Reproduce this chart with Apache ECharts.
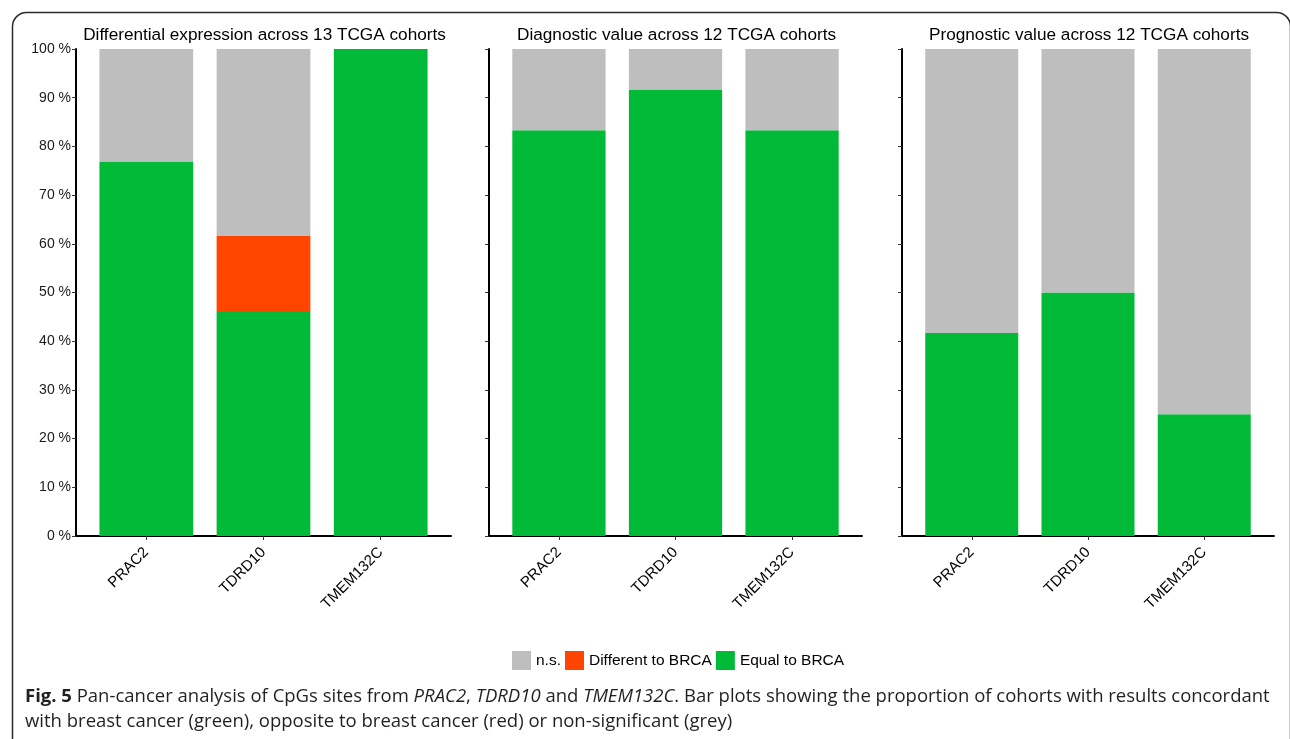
<!DOCTYPE html>
<html>
<head>
<meta charset="utf-8">
<script src="https://cdn.jsdelivr.net/npm/echarts@6/dist/echarts.min.js"></script>
<style>
  html, body { margin: 0; padding: 0; background: #fff; }
  #chart { width: 1290px; height: 739px; }
</style>
</head>
<body>
<div id="chart"></div>
<script>
// Gene categories shared by all three panels
const genes = ['PRAC2', 'TDRD10', 'TMEM132C'];

// Panel headings
const panelTitles = [
  'Differential expression across 13 TCGA cohorts',
  'Diagnostic value across 12 TCGA cohorts',
  'Prognostic value across 12 TCGA cohorts'
];

// Legend / series names
const seriesNames = ['n.s.', 'Different to BRCA', 'Equal to BRCA'];

// Proportion of cohorts (%) — differential expression
const diffEqual = [76.9, 46.2, 100.0];
const diffDifferent = [0, 15.4, 0];
const diffNs = [23.1, 38.4, 0];

// Proportion of cohorts (%) — diagnostic value
const diagEqual = [83.3, 91.7, 83.3];
const diagDifferent = [0, 0, 0];
const diagNs = [16.7, 8.3, 16.7];

// Proportion of cohorts (%) — prognostic value
const progEqual = [41.7, 50.0, 25.0];
const progDifferent = [0, 0, 0];
const progNs = [58.3, 50.0, 75.0];

// Y axis scale
const yMin = 0, yMax = 100, yStep = 10;

const panelData = [
  [diffEqual, diffDifferent, diffNs],
  [diagEqual, diagDifferent, diagNs],
  [progEqual, progDifferent, progNs]
];

const colors = { 'n.s.': '#BEBEBE', 'Different to BRCA': '#FF4500', 'Equal to BRCA': '#00BA38' };
const FONT = '"Liberation Sans", Arial, Helvetica, sans-serif';

// Horizontal extents of each panel's axis frame
const panels = [
  { x0: 76, x1: 451 },
  { x0: 489, x1: 862 },
  { x0: 902, x1: 1274 }
];
const plotTop = 49, plotHeight = 487;

const grids = [], xAxes = [], yAxes = [], series = [], titles = [];

panels.forEach((p, i) => {
  const w = p.x1 - p.x0;
  const unit = w / 3.2; // three categories plus 0.6 expansion on each side
  // frame grid: axis lines and y ticks
  grids.push({ left: p.x0, top: plotTop, width: w, height: plotHeight });
  // inner grid: the category bands holding the bars
  grids.push({ left: p.x0 + 0.1 * unit, top: plotTop, width: 3 * unit, height: plotHeight });

  xAxes.push({
    gridIndex: 2 * i, type: 'value', min: 0, max: 1,
    axisLine: { show: true, onZero: false, lineStyle: { color: '#000', width: 2 } },
    axisTick: { show: false }, axisLabel: { show: false }, splitLine: { show: false }
  });
  yAxes.push({
    gridIndex: 2 * i, type: 'value', min: yMin, max: yMax, interval: yStep,
    axisLine: { show: true, onZero: false, lineStyle: { color: '#000', width: 2 } },
    axisTick: { show: true, length: 4, lineStyle: { color: '#333', width: 1 } },
    axisLabel: { show: i === 0, formatter: '{value} %', fontSize: 14, color: '#1a1a1a', margin: 5, fontFamily: FONT },
    splitLine: { show: false }
  });

  xAxes.push({
    gridIndex: 2 * i + 1, type: 'category', data: genes,
    axisLine: { show: false },
    axisTick: { show: true, alignWithLabel: true, length: 4, lineStyle: { color: '#333', width: 1 } },
    axisLabel: { rotate: 45, interval: 0, fontSize: 15, color: '#000', margin: 14, fontFamily: FONT }
  });
  yAxes.push({ gridIndex: 2 * i + 1, type: 'value', min: yMin, max: yMax, show: false });

  const [eq, df, ns] = panelData[i];
  [['Equal to BRCA', eq], ['Different to BRCA', df], ['n.s.', ns]].forEach(([name, vals]) => {
    series.push({
      name, type: 'bar', stack: 'panel' + i,
      xAxisIndex: 2 * i + 1, yAxisIndex: 2 * i + 1,
      barWidth: '80%', data: vals,
      itemStyle: { color: colors[name] },
      emphasis: { disabled: true }, silent: true
    });
  });

  titles.push({
    text: panelTitles[i], left: (p.x0 + p.x1) / 2 - 4, top: 22, textAlign: 'center',
    textStyle: { fontSize: 17.2, fontWeight: 'normal', color: '#000', fontFamily: FONT }
  });
});

// Figure caption
const CAP_FONT = '"Open Sans", "Noto Sans", sans-serif';
const capBase = { fontFamily: CAP_FONT, fontSize: 18.5, color: '#231F20', lineHeight: 25 };
titles.push({
  left: 20, top: 679,
  text: '{b|Fig. 5} {n|Pan-cancer analysis of CpGs sites from }{i|PRAC2}{n|, }{i|TDRD10}{n| and }{i|TMEM132C}{n|. Bar plots showing the proportion of cohorts with results concordant}\n' +
        '{n|with breast cancer (green), opposite to breast cancer (red) or non-significant (grey)}',
  textStyle: Object.assign({}, capBase, {
    fontWeight: 'normal',
    rich: {
      b: Object.assign({}, capBase, { fontWeight: 'bold' }),
      n: Object.assign({}, capBase),
      i: Object.assign({}, capBase, { fontStyle: 'italic' })
    }
  })
});

const chart = echarts.init(document.getElementById('chart'), null, { renderer: 'canvas' });
chart.setOption({
  animation: false,
  backgroundColor: '#fff',
  textStyle: { fontFamily: FONT },
  title: titles,
  legend: {
    data: seriesNames, left: 507, top: 646,
    icon: 'rect', itemWidth: 19, itemHeight: 19, itemGap: 4,
    selectedMode: false,
    textStyle: { fontSize: 15.5, color: '#000', fontFamily: FONT }
  },
  grid: grids,
  xAxis: xAxes,
  yAxis: yAxes,
  series: series,
  graphic: [{
    type: 'rect', left: 10, top: 10, silent: true,
    shape: { width: 1278, height: 780, r: 14 },
    style: { fill: 'none', stroke: '#2b2b2b', lineWidth: 1.5 }
  }]
});
</script>
</body>
</html>
